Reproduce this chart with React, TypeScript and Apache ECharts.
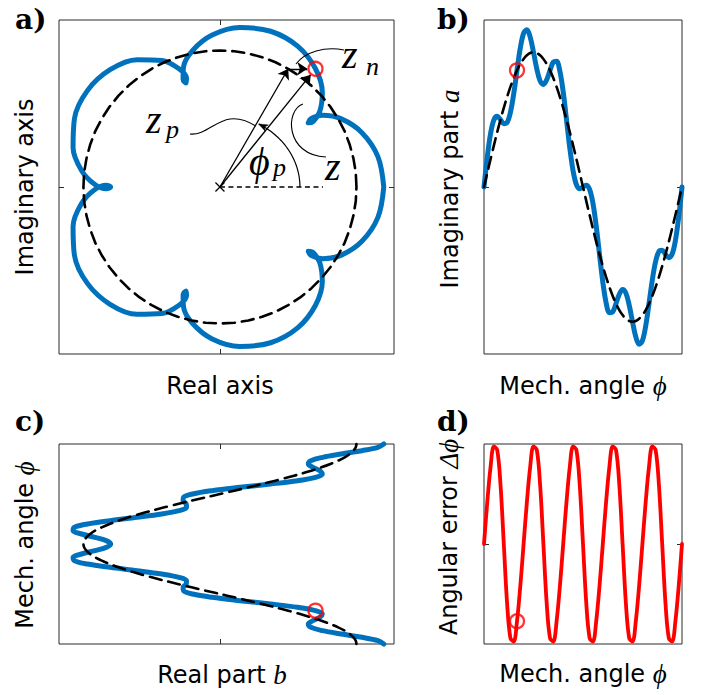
import React, { useEffect, useRef } from "react";
import * as echarts from "echarts";

// Mechanical angle samples (degrees)
const phiDeg = [0, 6, 12, 18, 24, 30, 36, 42, 48, 54, 60, 66, 72, 78, 84, 90, 96, 102, 108, 114, 120, 126, 132, 138, 144, 150, 156, 162, 168, 174, 180, 186, 192, 198, 204, 210, 216, 222, 228, 234, 240, 246, 252, 258, 264, 270, 276, 282, 288, 294, 300, 306, 312, 318, 324, 330, 336, 342, 348, 354, 360];
// Ideal (dashed) imaginary and real parts
const imagIdeal = [0, 0.105, 0.208, 0.309, 0.407, 0.5, 0.588, 0.669, 0.743, 0.809, 0.866, 0.914, 0.951, 0.978, 0.995, 1, 0.995, 0.978, 0.951, 0.914, 0.866, 0.809, 0.743, 0.669, 0.588, 0.5, 0.407, 0.309, 0.208, 0.105, 0, -0.105, -0.208, -0.309, -0.407, -0.5, -0.588, -0.669, -0.743, -0.809, -0.866, -0.914, -0.951, -0.978, -0.995, -1, -0.995, -0.978, -0.951, -0.914, -0.866, -0.809, -0.743, -0.669, -0.588, -0.5, -0.407, -0.309, -0.208, -0.105, 0];
const realIdeal = [1, 0.995, 0.978, 0.951, 0.914, 0.866, 0.809, 0.743, 0.669, 0.588, 0.5, 0.407, 0.309, 0.208, 0.105, 0, -0.105, -0.208, -0.309, -0.407, -0.5, -0.588, -0.669, -0.743, -0.809, -0.866, -0.914, -0.951, -0.978, -0.995, -1, -0.995, -0.978, -0.951, -0.914, -0.866, -0.809, -0.743, -0.669, -0.588, -0.5, -0.407, -0.309, -0.208, -0.105, 0, 0.105, 0.208, 0.309, 0.407, 0.5, 0.588, 0.669, 0.743, 0.809, 0.866, 0.914, 0.951, 0.978, 0.995, 1];
// Measured (blue) imaginary part a and real part b
const imagPart = [0, 0.223, 0.398, 0.499, 0.525, 0.5, 0.47, 0.479, 0.553, 0.691, 0.866, 1.032, 1.141, 1.168, 1.113, 1.0, 0.877, 0.788, 0.761, 0.796, 0.866, 0.927, 0.933, 0.859, 0.706, 0.5, 0.289, 0.119, 0.018, -0.013, 0, 0.013, -0.018, -0.119, -0.289, -0.5, -0.706, -0.859, -0.933, -0.927, -0.866, -0.796, -0.761, -0.788, -0.877, -1, -1.113, -1.168, -1.141, -1.032, -0.866, -0.691, -0.553, -0.479, -0.47, -0.5, -0.525, -0.499, -0.398, -0.223, 0];
const realPart = [1.2, 1.157, 1.04, 0.889, 0.752, 0.666, 0.647, 0.681, 0.731, 0.75, 0.7, 0.569, 0.371, 0.146, -0.057, -0.2, -0.267, -0.27, -0.247, -0.245, -0.3, -0.426, -0.607, -0.805, -0.971, -1.066, -1.076, -1.013, -0.916, -0.833, -0.8, -0.833, -0.916, -1.013, -1.076, -1.066, -0.971, -0.805, -0.607, -0.426, -0.3, -0.245, -0.247, -0.27, -0.267, -0.2, -0.057, 0.146, 0.371, 0.569, 0.7, 0.75, 0.731, 0.681, 0.647, 0.666, 0.752, 0.889, 1.04, 1.157, 1.2];
// Angular error (red)
const angErr = [0, 0.085, 0.156, 0.197, 0.19, 0.12, 0, -0.12, -0.19, -0.197, -0.156, -0.085, 0, 0.085, 0.156, 0.197, 0.19, 0.12, 0, -0.12, -0.19, -0.197, -0.156, -0.085, 0, 0.085, 0.156, 0.197, 0.19, 0.12, 0, -0.12, -0.19, -0.197, -0.156, -0.085, 0, 0.085, 0.156, 0.197, 0.19, 0.12, 0, -0.12, -0.19, -0.197, -0.156, -0.085, 0, 0.085, 0.156, 0.197, 0.19, 0.12, 0, -0.12, -0.19, -0.197, -0.156, -0.085, 0];
// Highlighted sample (phi = 60 deg)
const markerIndex = 10;
// Axis ranges
const realRange = [-1.179, 1.275];
const imagRange = [-1.2234, 1.2234];
const imagRangeB = [-1.24, 1.24];
const phiRange = [0, 360];
const errRange = [-0.202, 0.202];
const centerTicks = [0];
const phiLineEnd = 0.755;

const BLUE = "#0072BD";
const RED = "#FF0000";
const BOX = "#2b2b2b";
const SANS = '"DejaVu Sans", sans-serif';
const SERIF = '"Liberation Serif", "DejaVu Serif", serif';

function valAxis(gridIndex: number, position: string, range: number[], ticks: number[]) {
  return {
    type: "value",
    gridIndex,
    position,
    min: range[0],
    max: range[1],
    axisLine: { show: false, onZero: false },
    axisTick: {
      show: ticks.length > 0,
      inside: true,
      length: 5,
      customValues: ticks,
      lineStyle: { color: BOX, width: 1 },
    },
    axisLabel: { show: false },
    splitLine: { show: false },
  };
}

function lineSeries(xi: number, data: number[][], color: string, width: number, dashed: boolean, z: number, smooth: number | boolean) {
  return {
    type: "line",
    xAxisIndex: xi,
    yAxisIndex: xi,
    data,
    showSymbol: false,
    symbol: "none",
    clip: false,
    silent: true,
    smooth,
    z,
    lineStyle: {
      color,
      width,
      type: dashed ? [12, 7] : "solid",
      cap: "round",
      join: "round",
    },
  };
}

function ringSeries(xi: number, point: number[]) {
  return {
    type: "scatter",
    xAxisIndex: xi,
    yAxisIndex: xi,
    data: [point],
    symbol: "circle",
    symbolSize: 14,
    silent: true,
    clip: false,
    z: 20,
    itemStyle: { color: "rgba(0,0,0,0)", borderColor: RED, borderWidth: 2.3 },
  };
}

export default function App() {
  const ref = useRef<HTMLDivElement>(null);
  useEffect(() => {
    if (!ref.current) return;
    const chart = echarts.init(ref.current, undefined, { renderer: "svg" });
    const m = markerIndex;
    const zp = [realIdeal[m], imagIdeal[m]];
    const zz = [realPart[m], imagPart[m]];
    const zArrowEnd = [zz[0] * 0.95, zz[1] * 0.95];
    const znArrowEnd = [zp[0] + (zz[0] - zp[0]) * 0.7, zp[1] + (zz[1] - zp[1]) * 0.7];

    const grids = [
      { left: 59, top: 20, width: 335, height: 334 },
      { left: 484, top: 20, width: 198, height: 334 },
      { left: 59, top: 444, width: 335, height: 200 },
      { left: 484, top: 444, width: 198, height: 200 },
    ].map((g) => ({ ...g, show: true, borderColor: BOX, borderWidth: 1, backgroundColor: "transparent" }));

    const option: any = {
      animation: false,
      backgroundColor: "#ffffff",
      grid: grids,
      xAxis: [
        valAxis(0, "bottom", realRange, centerTicks),
        valAxis(1, "bottom", phiRange, []),
        valAxis(2, "bottom", realRange, centerTicks),
        valAxis(3, "bottom", phiRange, []),
        valAxis(0, "top", realRange, centerTicks),
        valAxis(1, "top", phiRange, []),
        valAxis(2, "top", realRange, centerTicks),
        valAxis(3, "top", phiRange, []),
      ],
      yAxis: [
        valAxis(0, "left", imagRange, centerTicks),
        valAxis(1, "left", imagRangeB, centerTicks),
        valAxis(2, "left", phiRange, []),
        valAxis(3, "left", errRange, centerTicks),
        valAxis(0, "right", imagRange, centerTicks),
        valAxis(1, "right", imagRangeB, centerTicks),
        valAxis(2, "right", phiRange, []),
        valAxis(3, "right", errRange, centerTicks),
      ],
      series: [
        // a)
        lineSeries(0, realPart.map((b, i) => [b, imagPart[i]]), BLUE, 5, false, 2, 0.35),
        lineSeries(0, realIdeal.map((c, i) => [c, imagIdeal[i]]), "#000", 2.6, true, 3, false),
        {
          type: "line",
          xAxisIndex: 0,
          yAxisIndex: 0,
          data: [[0, 0], [phiLineEnd, 0]],
          showSymbol: false,
          symbol: "none",
          silent: true,
          z: 4,
          lineStyle: { color: "#000", width: 1.3, type: [5, 3.5] },
        },
        {
          type: "lines",
          coordinateSystem: "cartesian2d",
          xAxisIndex: 0,
          yAxisIndex: 0,
          symbol: ["none", "arrow"],
          symbolSize: 10,
          silent: true,
          z: 6,
          lineStyle: { color: "#000", width: 1.3, opacity: 1, curveness: 0 },
          data: [
            { coords: [[0, 0], zp] },
            { coords: [[0, 0], zArrowEnd] },
            { coords: [zp, znArrowEnd] },
          ],
        },
        ringSeries(0, zz),
        // b)
        lineSeries(1, phiDeg.map((p, i) => [p, imagPart[i]]), BLUE, 5, false, 2, 0.35),
        lineSeries(1, phiDeg.map((p, i) => [p, imagIdeal[i]]), "#000", 2.6, true, 3, 0.3),
        ringSeries(1, [phiDeg[m], imagPart[m]]),
        // c)
        lineSeries(2, phiDeg.map((p, i) => [realPart[i], p]), BLUE, 5, false, 2, 0.35),
        lineSeries(2, phiDeg.map((p, i) => [realIdeal[i], p]), "#000", 2.6, true, 3, 0.3),
        ringSeries(2, [realPart[m], phiDeg[m]]),
        // d)
        lineSeries(3, phiDeg.map((p, i) => [p, angErr[i]]), RED, 3.8, false, 2, 0.35),
        ringSeries(3, [phiDeg[m], angErr[m]]),
      ],
    };
    chart.setOption(option);

    const O = chart.convertToPixel({ gridIndex: 0 } as any, [0, 0]) as number[];
    const ox = O[0];
    const oy = O[1];
    const black = { stroke: "#000", lineWidth: 1.2, fill: null };

    // phi_p arc (elliptic) with arrowhead
    const rx = 80;
    const ry = 72;
    const tEnd = (61 * Math.PI) / 180;
    const arcPts: number[][] = [];
    for (let d = 0; d <= 61; d += 2) {
      const t = (d * Math.PI) / 180;
      arcPts.push([ox + rx * Math.cos(t), oy - ry * Math.sin(t)]);
    }
    const E = [ox + rx * Math.cos(tEnd), oy - ry * Math.sin(tEnd)];
    arcPts.push(E);
    let dx = -rx * Math.sin(tEnd);
    let dy = -ry * Math.cos(tEnd);
    const dl = Math.hypot(dx, dy);
    dx /= dl;
    dy /= dl;
    const nx = -dy;
    const ny = dx;
    const B = [E[0] - dx * 9, E[1] - dy * 9];
    const head = [E, [B[0] + nx * 3.5, B[1] + ny * 3.5], [B[0] + dx * 2.5, B[1] + dy * 2.5], [B[0] - nx * 3.5, B[1] - ny * 3.5]];

    const bez = (p: number[]) => ({
      type: "bezierCurve",
      silent: true,
      shape: {
        x1: ox + p[0], y1: oy + p[1],
        cpx1: ox + p[2], cpy1: oy + p[3],
        cpx2: ox + p[4], cpy2: oy + p[5],
        x2: ox + p[6], y2: oy + p[7],
      },
      style: { ...black, lineWidth: 1.1 },
      z: 50,
    });

    const txt = (x: number, y: number, text: string, font: string, align = "left", rotation = 0, rich?: any) => ({
      type: "text",
      x,
      y,
      rotation,
      silent: true,
      z: 60,
      style: { text, font, fill: "#000", textAlign: align, textVerticalAlign: "middle", rich },
    });

    const richAxis = (t: string, mth: string) => ({
      text: `{t|${t}}{m|${mth}}`,
      rich: {
        t: { fontFamily: SANS, fontSize: 24, fill: "#000" },
        m: { fontFamily: SERIF, fontStyle: "italic", fontSize: 27, fill: "#000" },
      },
    });

    const rt = (x: number, y: number, t: string, mth: string, rotation = 0) => {
      const r = richAxis(t, mth);
      return txt(x, y, r.text, `24px ${SANS}`, "center", rotation, r.rich);
    };

    const mathFont = `italic 40px ${SERIF}`;
    const subFont = `italic 26px ${SERIF}`;
    const letterFont = `bold 28px "DejaVu Serif", serif`;

    chart.setOption({
      graphic: [
        // cross at origin
        { type: "line", silent: true, z: 50, shape: { x1: ox - 4.5, y1: oy - 4.5, x2: ox + 4.5, y2: oy + 4.5 }, style: black },
        { type: "line", silent: true, z: 50, shape: { x1: ox - 4.5, y1: oy + 4.5, x2: ox + 4.5, y2: oy - 4.5 }, style: black },
        { type: "polyline", silent: true, z: 50, shape: { points: arcPts }, style: black },
        { type: "polygon", silent: true, z: 50, shape: { points: head }, style: { fill: "#000", stroke: "#000", lineWidth: 0.5 } },
        bez([-30, -53, -8, -51, 2, -82, 36, -61]),
        bez([124, -137, 105, -141, 85, -135, 76, -123]),
        bez([106, -30, 65, -32, 65, -77, 83, -83]),
        // math labels
        txt(ox - 74, oy - 68, "z", mathFont),
        txt(ox - 54, oy - 58, "p", subFont),
        txt(ox + 122, oy - 133, "z", mathFont),
        txt(ox + 146, oy - 121, "n", subFont),
        txt(ox + 29, oy - 26, "ϕ", mathFont),
        txt(ox + 53, oy - 20, "p", subFont),
        txt(ox + 105, oy - 21, "z", mathFont),
        // panel letters
        txt(15, 19, "a)", letterFont),
        txt(437, 19, "b)", letterFont),
        txt(15, 421, "c)", letterFont),
        txt(437, 421, "d)", letterFont),
        // axis labels
        txt(25, 187, "Imaginary axis", `24px ${SANS}`, "center", Math.PI / 2),
        txt(220, 386, "Real axis", `24px ${SANS}`, "center"),
        rt(450, 189, "Imaginary part ", "a", Math.PI / 2),
        rt(583, 386, "Mech. angle ", "ϕ"),
        rt(25, 545, "Mech. angle ", "ϕ", Math.PI / 2),
        rt(222, 675, "Real part ", "b"),
        rt(449, 537, "Angular error ", "Δϕ", Math.PI / 2),
        rt(583, 674, "Mech. angle ", "ϕ"),
      ],
    });

    return () => chart.dispose();
  }, []);
  return (
    <div
      ref={ref}
      style={{ position: "fixed", left: 0, top: 0, width: 703, height: 695, background: "#fff" }}
    />
  );
}
